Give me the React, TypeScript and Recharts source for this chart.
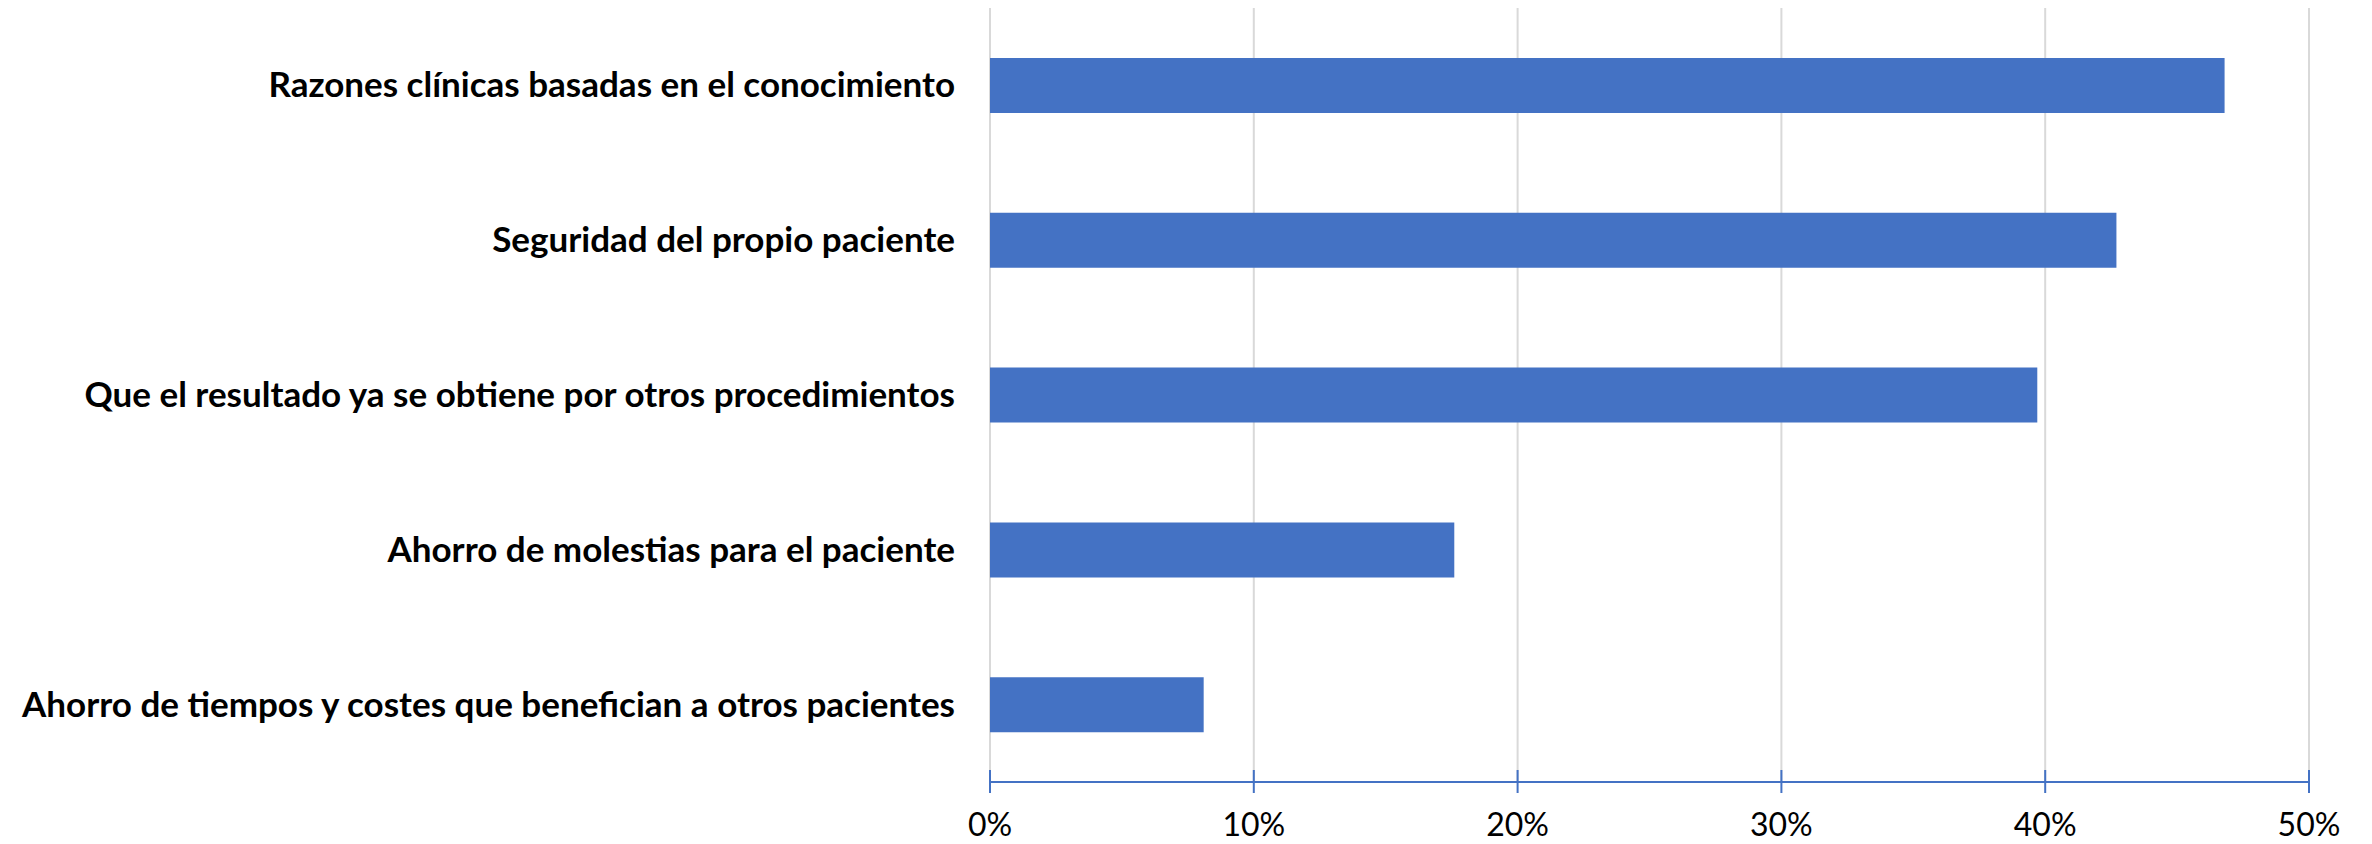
import { BarChart, Bar, XAxis, YAxis, CartesianGrid } from "recharts";

const reasons = [
  "Razones clínicas basadas en el conocimiento",
  "Seguridad del propio paciente",
  "Que el resultado ya se obtiene por otros procedimientos",
  "Ahorro de molestias para el paciente",
  "Ahorro de tiempos y costes que benefician a otros pacientes",
];

const shares = [0.468, 0.427, 0.397, 0.176, 0.081];

const xTicks = [0, 0.1, 0.2, 0.3, 0.4, 0.5];

const BLUE = "#4472C4";
const FONT = "Lato, 'Open Sans', sans-serif";

const rows = reasons.map((reason, i) => ({ reason, share: shares[i] }));

// eslint-disable-next-line @typescript-eslint/no-explicit-any
function ReasonTick({ x, y, payload }: any) {
  return (
    <text
      x={x - 35}
      y={y}
      dy={12}
      textAnchor="end"
      fontFamily={FONT}
      fontWeight={700}
      fontSize={35}
      fill="#000"
    >
      {payload.value}
    </text>
  );
}

// tick marks cross the axis line, labels sit underneath
// eslint-disable-next-line @typescript-eslint/no-explicit-any
function PercentTick({ x, y, payload }: any) {
  return (
    <g>
      <line x1={x} x2={x} y1={y - 12} y2={y + 11} stroke={BLUE} strokeWidth={2} />
      <text
        x={x}
        y={y + 54}
        textAnchor="middle"
        fontFamily={FONT}
        fontSize={32}
        fill="#000"
      >
        {`${Math.round(payload.value * 100)}%`}
      </text>
    </g>
  );
}

export default function App() {
  return (
    <div style={{ position: "absolute", left: 0, top: 0, width: 2372, height: 844, background: "#fff" }}>
      <BarChart
        width={2372}
        height={844}
        data={rows}
        layout="vertical"
        margin={{ top: 8, right: 63, bottom: 0, left: 0 }}
      >
        <CartesianGrid horizontal={false} stroke="#D9D9D9" strokeWidth={2} />
        <XAxis
          type="number"
          domain={[0, 0.5]}
          ticks={xTicks}
          interval={0}
          height={62}
          tickSize={0}
          tickMargin={0}
          tickLine={false}
          axisLine={{ stroke: BLUE, strokeWidth: 2 }}
          tick={<PercentTick />}
        />
        <YAxis
          type="category"
          dataKey="reason"
          width={990}
          axisLine={false}
          tickLine={false}
          tickSize={0}
          tickMargin={0}
          tick={<ReasonTick />}
        />
        <Bar dataKey="share" fill={BLUE} barSize={55} isAnimationActive={false} />
      </BarChart>
    </div>
  );
}
